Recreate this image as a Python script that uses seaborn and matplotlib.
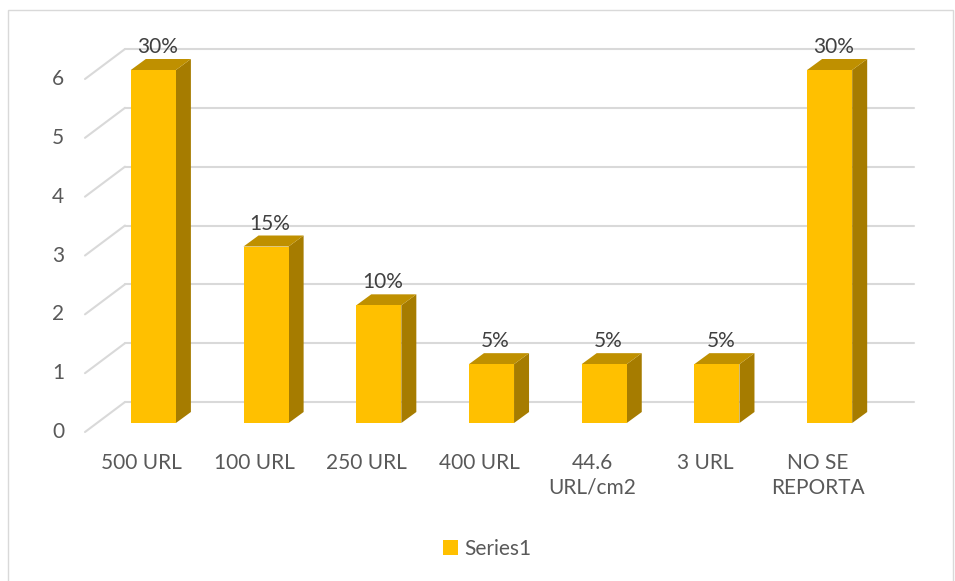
import matplotlib
matplotlib.use("Agg")
import matplotlib.pyplot as plt
import seaborn as sns
from matplotlib.transforms import IdentityTransform
from matplotlib.patches import Polygon, Rectangle

categories = ["500 URL", "100 URL", "250 URL", "400 URL", "44.6\nURL/cm2", "3 URL", "NO SE\nREPORTA"]
values = [6, 3, 2, 1, 1, 1, 6]
pct_labels = ["30%", "15%", "10%", "5%", "5%", "5%", "30%"]
y_ticks = [0, 1, 2, 3, 4, 5, 6]
series_name = "Series1"

sns.set_style("white")
plt.rcParams['font.family'] = ['Lato', 'DejaVu Sans']

W, H = 955, 581
FRONT = "#FFC000"
SIDE = "#A67C00"
TOP = "#BF9000"
GRID = "#D9D9D9"
TXT = "#595959"
FS = 15

fig = plt.figure(figsize=(W / 100, H / 100), dpi=100)
ax = fig.add_axes([97 / W, (H - 423) / H, 789 / W, 353 / H])
sns.barplot(x=categories, y=values, color=FRONT, saturation=1, width=0.4,
            ax=ax, zorder=3, linewidth=0, edgecolor="none")
ax.set_xlim(-0.5, len(categories) - 0.5)
ax.set_ylim(0, 6)
ax.autoscale(False)
for s in ax.spines.values():
    s.set_visible(False)
ax.set_xticks([])
ax.set_yticks([])
ax.set_xlabel("")
ax.set_ylabel("")
ax.patch.set_alpha(0)
if ax.get_legend() is not None:
    ax.get_legend().remove()

ident = IdentityTransform()
BX, BY = 28, 21
FX, FY = -12, -9
DX, DY = 15, 11

x_lo, x_hi = ax.get_xlim()
for v in y_ticks:
    p0 = ax.transData.transform((x_lo, v))
    p1 = ax.transData.transform((x_hi, v))
    ax.plot([p0[0] + BX, p1[0] + BX], [p0[1] + BY, p1[1] + BY], color=GRID, lw=1.5,
            transform=ident, clip_on=False, zorder=0)
    ax.plot([p0[0] + FX, p0[0] + BX], [p0[1] + FY, p0[1] + BY], color=GRID, lw=1.5,
            transform=ident, clip_on=False, zorder=0)
    ax.text(p0[0] + FX - 21, p0[1] + FY, str(v), ha="right", va="center",
            fontsize=FS, color=TXT, transform=ident)

bars = [p for p in ax.patches if isinstance(p, Rectangle)][:len(values)]
for bar, lab, cat in zip(bars, pct_labels, categories):
    x0, w, h = bar.get_x(), bar.get_width(), bar.get_height()
    bl = ax.transData.transform((x0, 0))
    tr = ax.transData.transform((x0 + w, h))
    side = Polygon([(tr[0], bl[1]), (tr[0], tr[1]), (tr[0] + DX, tr[1] + DY), (tr[0] + DX, bl[1] + DY)],
                   closed=True, facecolor=SIDE, edgecolor="none", transform=ident, zorder=2, clip_on=False)
    top = Polygon([(bl[0], tr[1]), (tr[0], tr[1]), (tr[0] + DX, tr[1] + DY), (bl[0] + DX, tr[1] + DY)],
                  closed=True, facecolor=TOP, edgecolor="none", transform=ident, zorder=2, clip_on=False)
    ax.add_patch(side)
    ax.add_patch(top)
    cx = (bl[0] + tr[0]) / 2
    ax.text(cx + 4, tr[1] + DY + 2, lab, ha="center", va="bottom", fontsize=FS,
            color="#404040", transform=ident, clip_on=False)
    ax.text(cx + FX, bl[1] + FY - 21, cat, ha="center", va="top", fontsize=FS,
            color=TXT, transform=ident, linespacing=1.3, clip_on=False)

handles = [Rectangle((0, 0), 1, 1, facecolor=FRONT, edgecolor="none")]
fig.legend(handles, [series_name], loc="center", bbox_to_anchor=(487 / W, 1 - 549 / H),
           frameon=False, fontsize=FS, handlelength=0.7, handleheight=0.7,
           handletextpad=0.3, labelcolor=TXT)

fig.add_artist(Rectangle((8 / W, -0.01), 945 / W, 1 - 10 / H + 0.01, transform=fig.transFigure,
                         facecolor="none", edgecolor=GRID, lw=1))

fig.savefig("out.png", dpi=100)
